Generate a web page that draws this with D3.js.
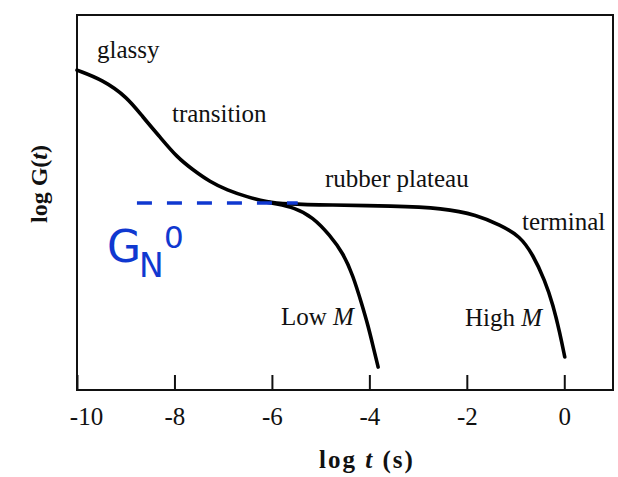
<!DOCTYPE html>
<html><head><meta charset="utf-8">
<script src="https://cdn.jsdelivr.net/npm/d3@7"></script>
<style>body{margin:0;background:#fff}</style>
</head><body>
<svg id="chart" width="618" height="477"></svg>
<script>
// ---- data ----
const tickValues = [-10, -8, -6, -4, -2, 0];
const tickLabels = ["-10", "-8", "-6", "-4", "-2", "0"];
// high M curve: log t, log G(t) (arbitrary units)
const highMLogT = [-10, -9.47, -8.97, -8.65, -8.30, -7.95, -7.62, -7.27, -6.92, -6.51, -6.10, -5.73, -4.81, -3.52, -2.49, -1.79, -1.32, -0.91, -0.64, -0.40, -0.23, -0.09, 0.01];
const highMLogG = [8.53, 8.27, 7.81, 7.28, 6.75, 6.21, 5.87, 5.55, 5.33, 5.15, 5.01, 4.96, 4.93, 4.91, 4.85, 4.67, 4.40, 4.11, 3.60, 2.93, 2.27, 1.52, 0.88];
// low M branch
const lowMLogT = [-6.10, -5.94, -5.53, -5.16, -4.81, -4.54, -4.34, -4.15, -4.03, -3.93, -3.82];
const lowMLogG = [5.01, 4.97, 4.86, 4.61, 4.13, 3.65, 3.07, 2.27, 1.73, 1.20, 0.61];
// plateau modulus G_N^0 line
const plateauLogG = 4.99;
const plateauRange = [-8.77, -5.47];
// region labels
const regionNames = ["glassy", "transition", "rubber plateau", "terminal"];

// ---- layout ----
const svg = d3.select("#chart");
const mLeft = 77, mRight = 613, mTop = 15, mBottom = 390;
const x = d3.scaleLinear().domain([-10, 1]).range([mLeft, mRight]);
const y = d3.scaleLinear().domain([0, 10]).range([mBottom, mTop]);
const serif = "'Liberation Serif', 'Times New Roman', serif";

// frame
svg.append("rect").attr("x", mLeft).attr("y", mTop)
  .attr("width", mRight - mLeft).attr("height", mBottom - mTop)
  .attr("fill", "none").attr("stroke", "#111").attr("stroke-width", 2);

// bottom axis with inward ticks
const xAxis = d3.axisBottom(x).tickValues(tickValues)
  .tickFormat((d, i) => tickLabels[i]).tickSizeInner(-15).tickSizeOuter(0).tickPadding(17);
const gx = svg.append("g").attr("transform", `translate(0,${mBottom})`).call(xAxis);
gx.select(".domain").remove();
gx.selectAll(".tick line").attr("stroke", "#111").attr("stroke-width", 2);
gx.selectAll(".tick text").attr("font-family", serif).attr("font-size", 25)
  .attr("fill", "#111").attr("dy", "0.71em");
gx.selectAll(".tick").filter(d => d === -10).select("text").attr("dx", 9);

// curves
const line = d3.line().x(d => x(d[0])).y(d => y(d[1])).curve(d3.curveBasis);
const highM = highMLogT.map((t, i) => [t, highMLogG[i]]);
const lowM = lowMLogT.map((t, i) => [t, lowMLogG[i]]);
svg.append("path").datum(highM).attr("d", line).attr("fill", "none")
  .attr("stroke", "#000").attr("stroke-width", 3.6).attr("stroke-linecap", "round");
svg.append("path").datum(lowM).attr("d", line).attr("fill", "none")
  .attr("stroke", "#000").attr("stroke-width", 3.6).attr("stroke-linecap", "round");

// dashed G_N^0
svg.append("line")
  .attr("x1", x(plateauRange[0])).attr("x2", x(plateauRange[1]))
  .attr("y1", y(plateauLogG)).attr("y2", y(plateauLogG))
  .attr("stroke", "#1038d0").attr("stroke-width", 3.5).attr("stroke-dasharray", "15,15");

const gn = svg.append("text").attr("x", 107).attr("y", 262)
  .attr("font-family", "'DejaVu Sans', Verdana, sans-serif").attr("fill", "#1038d0");
gn.append("tspan").attr("font-size", 44).text("G");
gn.append("tspan").attr("font-size", 33).attr("x", 139).attr("y", 277).text("N");
gn.append("tspan").attr("font-size", 31).attr("x", 164).attr("y", 248).text("0");

// region labels
const labelPos = [[97, 58], [172, 122], [325, 187], [522, 230]];
regionNames.forEach((s, i) => {
  svg.append("text").attr("x", labelPos[i][0]).attr("y", labelPos[i][1])
    .attr("font-family", serif).attr("font-size", 25).attr("fill", "#111").text(s);
});
const mLabels = [["Low ", 281, 325], ["High ", 465, 326]];
mLabels.forEach(([s, px, py]) => {
  const t = svg.append("text").attr("x", px).attr("y", py)
    .attr("font-family", serif).attr("font-size", 25).attr("fill", "#111");
  t.append("tspan").text(s);
  t.append("tspan").attr("font-style", "italic").text("M");
});

// axis titles
const xt = svg.append("text").attr("x", 367).attr("y", 468).attr("text-anchor", "middle")
  .attr("font-family", serif).attr("font-weight", "bold").attr("font-size", 25)
  .attr("letter-spacing", 2).attr("fill", "#111");
xt.append("tspan").text("log ");
xt.append("tspan").attr("font-style", "italic").text("t");
xt.append("tspan").text(" (s)");

const yt = svg.append("text").attr("transform", "translate(47,184) rotate(-90)")
  .attr("text-anchor", "middle").attr("font-family", serif).attr("font-weight", "bold")
  .attr("font-size", 24).attr("fill", "#111");
yt.append("tspan").text("log G(");
yt.append("tspan").attr("font-style", "italic").text("t");
yt.append("tspan").text(")");
</script>
</body></html>
